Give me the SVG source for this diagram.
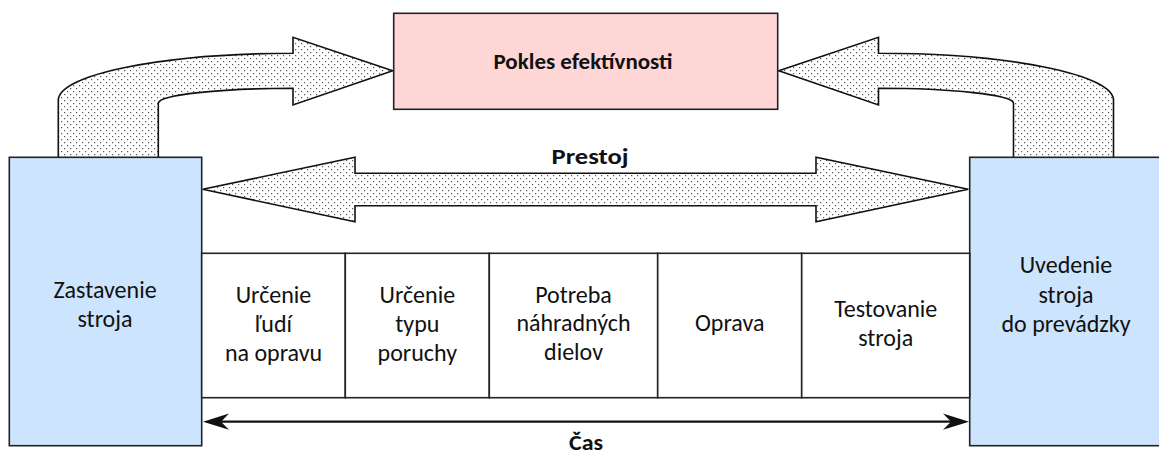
<svg xmlns="http://www.w3.org/2000/svg" width="1159" height="455" viewBox="0 0 1159 455">
<defs>
<pattern id="dots" width="6" height="6" patternUnits="userSpaceOnUse">
<rect width="6" height="6" fill="#ffffff"/>
<rect x="1" y="1" width="1.2" height="1.2" fill="#555"/>
<rect x="4" y="4" width="1.2" height="1.2" fill="#555"/>
</pattern>
<style>
.fat{fill:url(#dots);stroke:#111;stroke-width:1.6;stroke-linejoin:miter}
.blue{fill:#cce4fd;stroke:#222;stroke-width:1.6}
.pink{fill:#ffd6d6;stroke:#222;stroke-width:1.6}
.cell{fill:#ffffff;stroke:#222;stroke-width:1.6}
.t{font-family:Carlito,Lato,"Liberation Sans",sans-serif;font-size:24px;fill:#111;text-anchor:middle}
.b{font-family:Carlito,Lato,"Liberation Sans",sans-serif;font-size:22px;font-weight:bold;fill:#111;text-anchor:middle}
.line{stroke:#111;stroke-width:2.2;fill:none}
.head{fill:#111;stroke:none}
</style>
</defs>
<rect width="1159" height="455" fill="#ffffff"/>
<g id="connectors">
<path class="fat" d="M58.3,158 L58.3,100 A235,47 0 0 1 293,53.3 L293,37.3 L392.7,70.7 L293,105 L293,88.3 A135,15 0 0 0 158.3,103 L158.3,158 Z"/>
<path class="fat" d="M1113.5,158 L1113.5,100 A235,47 0 0 0 878.5,53.3 L878.5,37.3 L778.8,70.7 L878.5,105 L878.5,88.3 A135,15 0 0 1 1013.5,103 L1013.5,158 Z"/>
<path class="fat" d="M202.7,189.3 L355,157.3 L355,173.3 L816,173.3 L816,157.3 L968.3,189.3 L816,221.7 L816,205.7 L355,205.7 L355,221.7 Z"/>
<line class="line" x1="210" y1="421.7" x2="962" y2="421.7"/>
<path class="head" d="M203,421.7 L229,413.6 L221,421.7 L229,429.8 Z"/>
<path class="head" d="M969,421.7 L943,413.6 L951,421.7 L943,429.8 Z"/>
</g>
<g id="pokles">
<rect class="pink" x="393.7" y="13.3" width="384" height="96"/>
<text class="b" x="583" y="68.8" textLength="179" lengthAdjust="spacingAndGlyphs">Pokles efektívnosti</text>
</g>
<g id="prestoj-label">
<text class="b" x="590" y="164" textLength="77" lengthAdjust="spacingAndGlyphs">Prestoj</text>
</g>
<g id="cas-label">
<text class="b" x="586" y="450" textLength="34" lengthAdjust="spacingAndGlyphs">Čas</text>
</g>
<g id="zastavenie">
<rect class="blue" x="9.3" y="157.3" width="192.4" height="288.4"/>
<text class="t" x="105" y="298.3">Zastavenie</text>
<text class="t" x="105" y="327.3">stroja</text>
</g>
<g id="uvedenie">
<rect class="blue" x="969.7" y="157.3" width="200" height="288.4"/>
<text class="t" x="1066" y="273.3">Uvedenie</text>
<text class="t" x="1066" y="302.5">stroja</text>
<text class="t" x="1066" y="331.7">do prevádzky</text>
</g>
<g id="cell1">
<rect class="cell" x="201.7" y="253.3" width="143.6" height="144.4"/>
<text class="t" x="273.5" y="303.3">Určenie</text>
<text class="t" x="273.5" y="332.3">ľudí</text>
<text class="t" x="273.5" y="361.3">na opravu</text>
</g>
<g id="cell2">
<rect class="cell" x="345.3" y="253.3" width="144" height="144.4"/>
<text class="t" x="417.3" y="303.3">Určenie</text>
<text class="t" x="417.3" y="332.3">typu</text>
<text class="t" x="417.3" y="361.3">poruchy</text>
</g>
<g id="cell3">
<rect class="cell" x="489.3" y="253.3" width="168.4" height="144.4"/>
<text class="t" x="573.5" y="302.5">Potreba</text>
<text class="t" x="573.5" y="331.3">náhradných</text>
<text class="t" x="573.5" y="360.3">dielov</text>
</g>
<g id="cell4">
<rect class="cell" x="657.7" y="253.3" width="144" height="144.4"/>
<text class="t" x="729.7" y="331">Oprava</text>
</g>
<g id="cell5">
<rect class="cell" x="801.7" y="253.3" width="168" height="144.4"/>
<text class="t" x="885.7" y="317.3">Testovanie</text>
<text class="t" x="885.7" y="346.3">stroja</text>
</g>
</svg>
